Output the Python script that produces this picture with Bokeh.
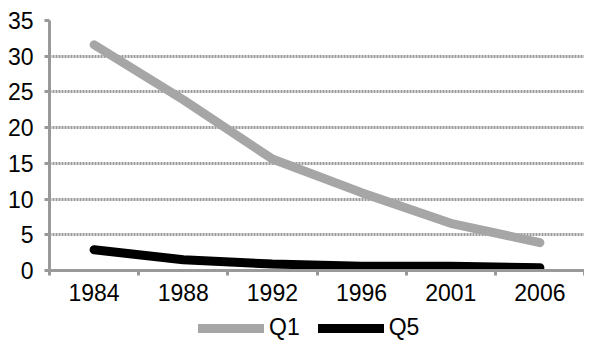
from bokeh.plotting import figure
from bokeh.layouts import column
from bokeh.models import Range1d, FixedTicker, Legend, LegendItem
from bokeh.embed import file_html
from bokeh.resources import INLINE

years = ["1984", "1988", "1992", "1996", "2001", "2006"]
q1 = [31.6, 23.9, 15.6, 10.9, 6.6, 3.9]
q5 = [2.9, 1.5, 0.9, 0.6, 0.6, 0.4]
y_ticks = [0, 5, 10, 15, 20, 25, 30, 35]

xs = [i + 0.5 for i in range(len(years))]

FONT = "Liberation Sans"
GRID = "#999999"
Q1_COLOR = "#A6A6A6"
Q5_COLOR = "black"
FS = "23px"

p = figure(width=584, height=310, output_backend="svg", toolbar_location=None,
           x_range=Range1d(0, len(years)), y_range=Range1d(0, 35),
           min_border_left=49, min_border_right=0, min_border_top=20,
           min_border_bottom=40)
p.outline_line_color = None
p.background_fill_color = "white"

# x axis: labels at category centres, ticks at category boundaries
p.xaxis.ticker = FixedTicker(ticks=xs, minor_ticks=list(range(len(years) + 1)))
p.xaxis.major_label_overrides = {x: y for x, y in zip(xs, years)}
p.xaxis.major_tick_line_color = None
p.xaxis.major_tick_out = 5
p.xaxis.major_tick_in = 0
p.xaxis.minor_tick_line_color = GRID
p.xaxis.minor_tick_line_width = 3
p.xaxis.minor_tick_out = 5
p.xaxis.minor_tick_in = 0
p.xaxis.axis_line_color = GRID
p.xaxis.axis_line_width = 3
p.xaxis.major_label_text_font = FONT
p.xaxis.major_label_text_font_size = FS
p.xaxis.major_label_text_color = "black"
p.xaxis.major_label_standoff = 8

# y axis
p.yaxis.ticker = FixedTicker(ticks=y_ticks, minor_ticks=[])
p.yaxis.major_tick_line_color = GRID
p.yaxis.major_tick_line_width = 3
p.yaxis.major_tick_out = 5
p.yaxis.major_tick_in = 0
p.yaxis.minor_tick_line_color = None
p.yaxis.axis_line_color = GRID
p.yaxis.axis_line_width = 3
p.yaxis.major_label_text_font = FONT
p.yaxis.major_label_text_font_size = FS
p.yaxis.major_label_text_color = "black"
p.yaxis.major_label_standoff = 11

p.xgrid.grid_line_color = None
p.ygrid.grid_line_color = GRID
p.ygrid.grid_line_width = 3
p.ygrid.grid_line_dash = "2 1"

p.line(xs, q1, line_color=Q1_COLOR, line_width=9, line_cap="round", line_join="round")
p.line(xs, q5, line_color=Q5_COLOR, line_width=9, line_cap="round", line_join="round")

# legend strip below the chart (series drawn out of view; only the legend shows)
lg = figure(width=584, height=35, output_backend="svg", toolbar_location=None,
            x_axis_type=None, y_axis_type=None,
            x_range=Range1d(0, 1), y_range=Range1d(100, 101),
            min_border_left=0, min_border_right=0, min_border_top=0,
            min_border_bottom=0)
lg.outline_line_color = None
lg.xgrid.grid_line_color = None
lg.ygrid.grid_line_color = None
l1 = lg.line(xs, q1, line_color=Q1_COLOR, line_width=9, line_cap="round")
l5 = lg.line(xs, q5, line_color=Q5_COLOR, line_width=9, line_cap="round")

legend = Legend(items=[LegendItem(label="Q1", renderers=[l1]),
                       LegendItem(label="Q5", renderers=[l5])],
                orientation="horizontal", location=(149, 4),
                glyph_width=66, glyph_height=24, label_standoff=5, spacing=18,
                label_text_font=FONT, label_text_font_size=FS,
                label_text_color="black", border_line_color=None,
                background_fill_alpha=0, padding=0, margin=0)
lg.add_layout(legend, "center")

layout = column(p, lg, spacing=0)
open("out.html", "w").write(file_html(layout, INLINE))
